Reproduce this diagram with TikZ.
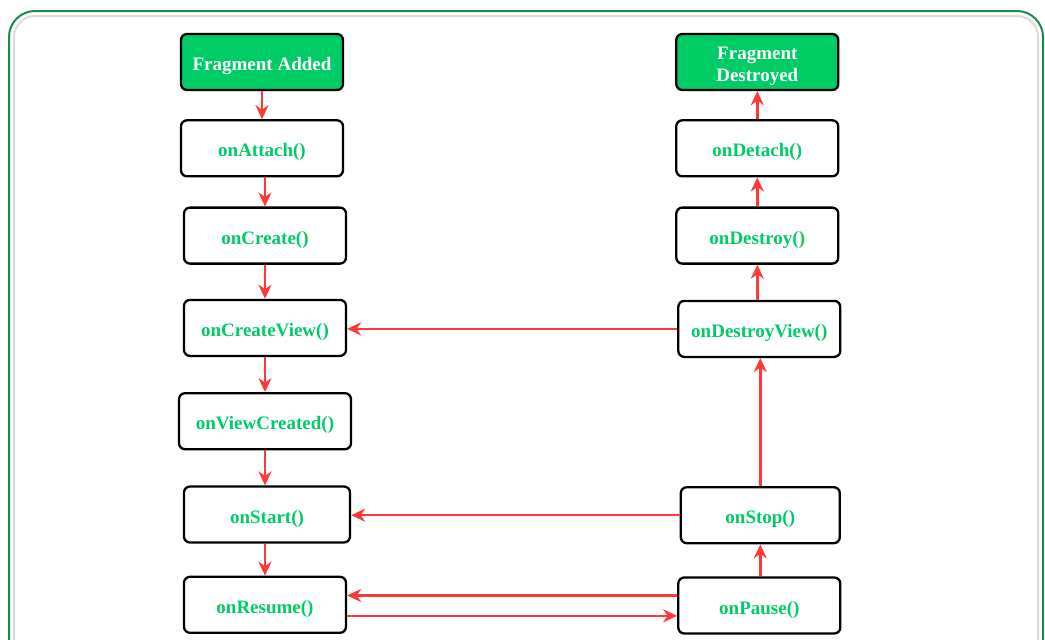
\documentclass[tikz,border=0pt]{standalone}
\usepackage{fontspec}
\setmainfont{Liberation Serif}
\usepackage{xcolor}
\usepackage{tikz}
\usetikzlibrary{arrows.meta,positioning}

\definecolor{fraggreen}{HTML}{00CC66}
\definecolor{arrred}{HTML}{FF3838}
\definecolor{framegreen}{HTML}{1E8A4C}

\begin{document}
\begin{tikzpicture}[
    x=1pt, y=-1pt,
    node distance=28pt and 331pt,
    box/.style={draw=black, line width=2.3pt, rounded corners=6pt, align=center, fill=white,
                minimum height=56pt, minimum width=162pt, text=fraggreen,
                text height=19pt, text depth=2pt,
                font=\fontsize{19}{22}\selectfont\bfseries},
    endbox/.style={box, fill=fraggreen, text=white},
    arr/.style={-{Stealth[length=14pt,width=13pt,inset=4.5pt]}, line width=2.5pt, draw=arrred}
]
\useasboundingbox (0,0) rectangle (1045,640);
% outer frame
\begin{scope}
\clip (0,0) rectangle (1045,640);
\draw[framegreen, line width=2pt, rounded corners=26pt] (9,11) rectangle (1043,690);
\draw[black!14, line width=2pt, rounded corners=21pt] (14,16) rectangle (1038,685);
\end{scope}

% left column
\node[endbox] (added) at (262,62) {Fragment Added};
\node[box, below=of added] (attach) {onAttach()};
\node[box, below=29pt of attach, xshift=3pt] (create) {onCreate()};
\node[box, below=34pt of create] (createview) {onCreateView()};
\node[box, below=35pt of createview, minimum width=172pt] (viewcreated) {onViewCreated()};
\node[box, below=35pt of viewcreated, minimum width=166pt, xshift=2pt] (start) {onStart()};
\node[box, below=32pt of start, xshift=-2pt] (resume) {onResume()};

% right column
\node[endbox, right=of added, text height=41pt, text depth=1.5pt] (destroyed) {Fragment\\Destroyed};
\node[box, below=of destroyed] (detach) {onDetach()};
\node[box, below=29pt of detach] (destroy) {onDestroy()};
\node[box, below=35pt of destroy, xshift=2pt] (destroyview) {onDestroyView()};
\node[box, below=128pt of destroyview, minimum width=159pt, xshift=1pt] (stop) {onStop()};
\node[box, below=32pt of stop, xshift=-1pt] (pause) {onPause()};

\draw[arr] (added) -- (attach);
\draw[arr] (attach.south -| create) -- (create);
\draw[arr] (create) -- (createview);
\draw[arr] (createview) -- (createview |- viewcreated.north);
\draw[arr] (viewcreated.south -| createview) -- (createview |- start.north);
\draw[arr] (start.south -| resume) -- (resume);
\draw[arr] ([yshift=-11pt]resume.east) -- ([yshift=-11pt]resume.east -| pause.west);
\draw[arr] ([yshift=10pt]pause.west) -- ([yshift=10pt]pause.west -| resume.east);
\draw[arr] (pause.north -| stop) -- (stop);
\draw[arr] (stop) -- (stop.west -| start.east);
\draw[arr] (stop) -- (stop |- destroyview.south);
\draw[arr] (destroyview) -- (destroyview.west -| createview.east);
\draw[arr] (destroyview.north -| destroy) -- (destroy);
\draw[arr] (destroy) -- (detach);
\draw[arr] (detach) -- (destroyed);
\end{tikzpicture}
\end{document}
